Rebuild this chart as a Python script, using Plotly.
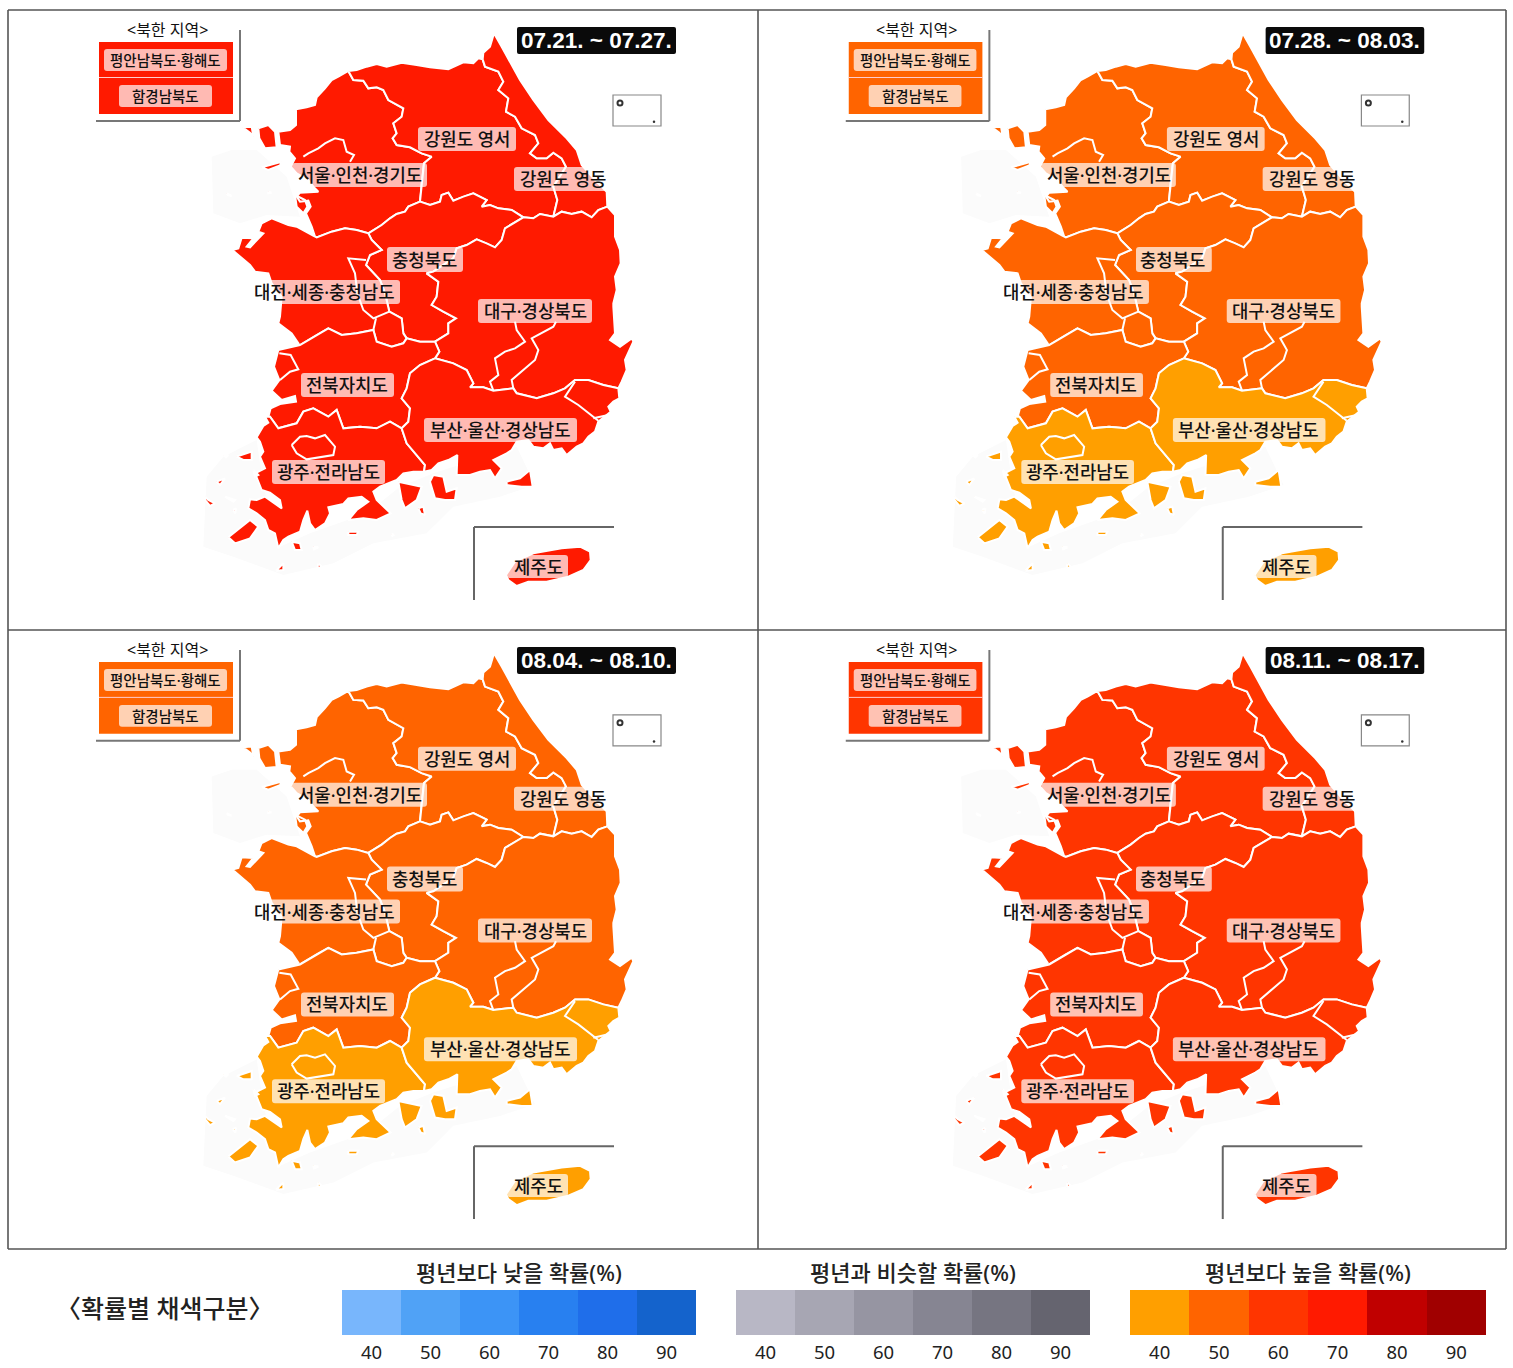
# === 1개월 전망 지도 4주 + 확률 범례 ===
import plotly.graph_objects as go

W, H = 1513, 1368

# === DATA ===
WEEKS = ["07.21. ~ 07.27.", "07.28. ~ 08.03.", "08.04. ~ 08.10.", "08.11. ~ 08.17."]

REGIONS = ["gyeonggi", "gangwon_w", "gangwon_e", "chungbuk", "chungnam", "gyeongbuk",
           "jeonbuk", "jeonnam", "gyeongnam", "jeju"]

# 평년보다 높을 확률(%) 권역별, REGIONS 순서
WEEK1_PROB = [70, 70, 70, 70, 70, 70, 70, 70, 70, 70]
WEEK2_PROB = [50, 50, 50, 50, 50, 50, 50, 40, 40, 40]
WEEK3_PROB = [50, 50, 50, 50, 50, 50, 50, 40, 40, 40]
WEEK4_PROB = [60, 60, 60, 60, 60, 60, 60, 60, 60, 60]
NORTH_PROB = [70, 50, 50, 60]  # 북한 지역, 주차별

PROB_TICKS = [40, 50, 60, 70, 80, 90]
LOW_COLORS = ["#78b6fc", "#50a2f6", "#3c94f6", "#2880f0", "#1f6eea", "#1463cc"]
SIM_COLORS = ["#b8b7c5", "#a7a6b3", "#9695a2", "#868592", "#767581", "#65646f"]
HIGH_COLORS = ["#ff9f00", "#ff6400", "#ff3500", "#ff1a00", "#c00000", "#a00000"]

REGION_LABELS = ["강원도 영서", "서울·인천·경기도", "강원도 영동", "충청북도", "대전·세종·충청남도",
                 "대구·경상북도", "전북자치도", "부산·울산·경상남도", "광주·전라남도", "제주도"]
NORTH_LABELS = ["평안남북도·황해도", "함경남북도"]

# 경계선 (지도 좌표)
def z2(pts):
    return [(x, y + 870) for x, y in pts]

GG_NORTH = [(288, 298), (320, 292), (345, 285), (350, 262), (375, 235), (395, 210), (415, 200), (445, 183)]
GG_GW = [(445, 183), (460, 210), (490, 212), (505, 235), (530, 232), (550, 240), (565, 270), (610, 295), (605, 320),
         (580, 340), (590, 370), (578, 385), (590, 405), (630, 412), (665, 430), (695, 440), (672, 460),
         (665, 520), (660, 575)]
GG_CB = [(660, 575), (625, 590), (615, 605), (590, 612), (570, 625), (545, 645), (505, 670)]
GG_CN = [(505, 670), (470, 660), (435, 655), (395, 665), (350, 682), (345, 680)]
GG_COAST = [(345, 680), (335, 650), (318, 610), (332, 590), (325, 572), (300, 575), (290, 560), (300, 548),
            (355, 545), (340, 530), (325, 510), (290, 490), (272, 470), (285, 445), (268, 425), (270, 410),
            (240, 405), (235, 365), (270, 360), (288, 345), (288, 298)]
GW_NORTH = [(445, 183), (470, 180), (500, 170), (530, 162), (560, 170), (605, 158), (650, 165), (690, 172), (745, 178),
            (790, 157), (820, 160), (835, 145), (848, 148)]
GW_DIV = [(848, 148), (855, 170), (895, 185), (910, 215), (895, 240), (925, 265), (918, 305), (945, 320),
          (965, 355), (1005, 375), (1015, 400), (990, 430), (1010, 445), (1040, 445), (1060, 428), (1085, 445),
          (1098, 470), (1060, 530), (1072, 570), (1060, 620)]
GE_COAST = [(848, 148), (850, 128), (870, 110), (882, 70), (905, 110), (935, 165), (960, 210), (1000, 270),
            (1045, 330), (1100, 385), (1130, 420), (1145, 465), (1185, 510), (1220, 545), (1222, 590)]
GE_GB = [(1222, 590), (1195, 600), (1175, 622), (1145, 605), (1115, 612), (1085, 605), (1060, 620)]
GW_GB = [(1060, 620), (1020, 612), (1000, 625), (970, 622)]
GW_CB = [(970, 622), (935, 600), (895, 595), (870, 585), (845, 590), (860, 570), (820, 550), (790, 560),
         (760, 572), (745, 548), (725, 555), (720, 575), (690, 585), (660, 575)]
CB_GB = [(970, 622), (915, 655), (905, 690), (885, 712), (860, 700), (830, 688), (800, 705), (770, 715),
         (760, 745), (700, 785), (680, 790), (715, 815), (710, 860), (695, 885), (730, 905), (768, 925),
         (745, 940), (745, 970), (705, 995)]
CB_JB = [(620, 985), (660, 995), (705, 995)]
JB_GB = [(705, 995), (718, 1025), (705, 1045)]
CN_CB = [(505, 670), (515, 690), (545, 720), (510, 735), (498, 765), (540, 810), (555, 850), (568, 905),
         (605, 925), (610, 970), (620, 985)]
CN_COAST = [(345, 680), (310, 660), (290, 650), (265, 645), (230, 630), (215, 625), (185, 640), (175, 665), (190, 670),
            (150, 712), (140, 710), (160, 685), (125, 683), (115, 715), (97, 720), (125, 745), (150, 765), (165, 785),
            (205, 790), (215, 820), (245, 860), (240, 920), (235, 940), (275, 970), (295, 1000), (235, 1020)]
CN_JB = z2([(235, 150), (300, 135), (350, 105), (385, 85), (425, 105), (470, 100), (520, 90), (530, 125),
            (575, 140), (610, 130), (620, 115)])
JB_COAST = z2([(235, 150), (222, 200), (238, 240), (215, 272), (245, 300), (285, 288), (288, 305), (240, 312),
               (212, 325), (205, 350), (195, 350)])
JB_JN = z2([(605, 385), (570, 365), (530, 385), (480, 380), (430, 385), (410, 330), (385, 350), (340, 325),
            (310, 335), (290, 370), (235, 385), (210, 350), (195, 350)])
JB_GN = z2([(705, 175), (660, 195), (630, 220), (620, 265), (605, 295), (630, 325), (625, 365), (605, 385)])
JN_GN = z2([(605, 385), (620, 430), (650, 465), (675, 495), (672, 515)])
JN_COAST = z2([(195, 350), (205, 368), (190, 378), (170, 412), (180, 425), (190, 455), (180, 470), (195, 505), (165, 520),
               (175, 545), (185, 570), (210, 578), (240, 600), (245, 625), (215, 605), (195, 590), (170, 600), (150, 598),
               (145, 625), (170, 640), (195, 660), (205, 690), (225, 700), (235, 745), (250, 720), (265, 710), (300, 695),
               (310, 660), (322, 632), (330, 670), (345, 690), (375, 670), (390, 640), (385, 622), (430, 612), (445, 595),
               (485, 590), (505, 605), (470, 630), (445, 660), (490, 655), (530, 660), (572, 640), (550, 620), (530, 600),
               (520, 575), (540, 560), (590, 540), (610, 520), (640, 515), (672, 515)])
GB_GN = z2([(705, 175), (760, 190), (800, 210), (820, 250), (810, 262), (850, 262), (880, 272), (940, 265),
            (950, 280), (1010, 295), (1060, 280), (1095, 265), (1125, 240), (1165, 240), (1210, 255), (1255, 265)])
GB_COAST = [(1222, 590), (1245, 615), (1245, 680), (1260, 720), (1262, 760), (1245, 800), (1250, 840), (1240, 880),
            (1240, 890)] + z2([(1245, 100), (1230, 120), (1260, 140), (1295, 115), (1300, 125), (1275, 180),
                               (1280, 210), (1265, 245), (1255, 265)])
GN_COAST = z2([(1255, 265), (1258, 295), (1240, 305), (1225, 320), (1232, 335), (1220, 345), (1195, 365), (1185, 395),
               (1165, 410), (1150, 430), (1130, 440), (1100, 465), (1085, 445), (1060, 450), (1050, 430), (1030, 445),
               (1000, 440), (985, 420), (950, 425), (935, 450), (920, 460), (880, 480), (905, 505), (885, 535), (870, 510),
               (840, 515), (810, 525), (770, 525), (772, 465), (745, 480), (715, 490), (695, 510), (672, 515)])
JEJU = z2([(918, 825), (945, 785), (1000, 760), (1085, 745), (1140, 740), (1170, 755), (1172, 780), (1150, 810),
           (1105, 830), (1040, 845), (985, 845), (950, 858), (925, 840)])

# 섬
GG_ISLANDS = [[(128, 352), (155, 350), (160, 380), (150, 368)],
              [(175, 355), (205, 345), (225, 365), (230, 412), (195, 415), (178, 385)],
              [(185, 472), (245, 455), (240, 466), (205, 480)],
              [(285, 555), (315, 570), (322, 590), (310, 610), (290, 590)],
              [(80, 550), (95, 558), (85, 556)],
              [(205, 545), (215, 548), (205, 550)]]
JN_ISLANDS = [z2(p) for p in [
    [(85, 712), (150, 660), (175, 680), (150, 715), (105, 730)],
    [(275, 725), (300, 730), (305, 750), (285, 750)],
    [(445, 695), (475, 695), (470, 705), (445, 705)],
    [(228, 812), (250, 790), (250, 810)],
    [(355, 790), (365, 800), (352, 805)],
    [(110, 470), (155, 455), (155, 480), (130, 480)],
    [(50, 545), (75, 535), (60, 555)],
    [(15, 590), (25, 600), (45, 610), (30, 618), (15, 600)],
    [(75, 590), (105, 600), (100, 605)],
    [(70, 465), (85, 465), (78, 472)],
    [(98, 630), (108, 625), (106, 640)],
    [(160, 510), (175, 525), (165, 530)],
    [(595, 545), (640, 555), (665, 560), (650, 600), (615, 625), (605, 600)],
    [(655, 625), (670, 620), (675, 645), (662, 640)],
    [(340, 740), (355, 742), (342, 748)],
    [(575, 702), (583, 704), (577, 708)]]]
GN_ISLANDS = [z2(p) for p in [
    [(690, 545), (700, 525), (730, 530), (740, 575), (770, 565), (765, 600), (735, 600), (705, 595)],
    [(920, 545), (960, 535), (990, 510), (998, 560), (965, 560), (920, 555)]]]

# 내부 경계선
INNER_LINES = [
    [(310, 440), (325, 430), (355, 415), (375, 400), (405, 385), (430, 390), (440, 425), (462, 435), (450, 455)],
    [(498, 750), (445, 745), (465, 790), (472, 850), (490, 900), (520, 925), (568, 905)],
    [(528, 925), (520, 960)],
    z2([(238, 160), (272, 165), (280, 180), (295, 208), (270, 215), (240, 240)]),
    z2([(275, 435), (300, 410), (320, 408), (345, 415), (375, 405), (395, 430), (405, 440), (400, 465), (365, 470),
        (320, 478), (290, 460), (275, 435)]),
    z2([(880, 272), (870, 245), (895, 225), (885, 175), (915, 155), (945, 145), (975, 125), (950, 90), (945, 65)]),
    z2([(940, 265), (935, 240), (1005, 180), (1015, 150), (995, 115), (1060, 80), (1068, 65)]),
    z2([(1125, 245), (1095, 290), (1135, 315), (1175, 345), (1195, 362)]),
    z2([(1180, 355), (1225, 345)]),
]

# 연한 도서 지역 배경
HAZE = [
    [(95, 420), (170, 420), (260, 500), (300, 620), (200, 615), (120, 640), (40, 610), (35, 440)],
    z2([(20, 530), (70, 470), (170, 420), (190, 560), (240, 740), (330, 700), (500, 640), (600, 560), (700, 520), (950, 440),
        (1005, 555), (900, 590), (760, 620), (680, 700), (520, 730), (400, 790), (250, 825), (100, 770), (10, 740)]),
]

ULLEUNG = [(1260, 279)]
DOKDO = [(1362, 335)]

# === 폴리곤 조합 ===
def rev(seg):
    return seg[::-1]

REGION_PARTS = {
    "gyeonggi": [GG_NORTH + GG_GW + GG_CB + GG_CN + GG_COAST] + GG_ISLANDS,
    "gangwon_w": [GW_NORTH + GW_DIV + GW_GB + GW_CB + rev(GG_GW)],
    "gangwon_e": [GE_COAST + GE_GB + rev(GW_DIV)],
    "chungbuk": [rev(GW_CB) + CB_GB + rev(CB_JB) + rev(CN_CB) + rev(GG_CB)],
    "chungnam": [CN_COAST + CN_JB + rev(CN_CB) + GG_CN],
    "gyeongbuk": [GB_COAST + rev(GB_GN) + rev(JB_GB) + rev(CB_GB) + rev(GW_GB) + rev(GE_GB)],
    "jeonbuk": [JB_COAST + rev(JB_JN) + rev(JB_GN) + rev(JB_GB) + rev(CB_JB) + rev(CN_JB)],
    "jeonnam": [JN_COAST + rev(JN_GN) + JB_JN] + JN_ISLANDS,
    "gyeongnam": [GB_GN + GN_COAST + rev(JN_GN) + rev(JB_GN)] + GN_ISLANDS,
    "jeju": [JEJU],
}

def flatten(parts):
    xs, ys = [], []
    for part in parts:
        xs += [p[0] for p in part] + [part[0][0], None]
        ys += [p[1] for p in part] + [part[0][1], None]
    return xs, ys

def prob_color(p):
    return HIGH_COLORS[PROB_TICKS.index(p)]

# 화면 픽셀 -> 지도 좌표 (1번 패널 기준)
def mx(px):
    return (px - 200) * 3

def my(py):
    return (py - 10) * 3

PANEL_X = [(8, 758), (758, 1506), (8, 758), (758, 1506)]
PANEL_Y = [(10, 630), (10, 630), (630, 1249), (630, 1249)]

FONT = "Noto Sans, Noto Sans CJK KR"

fig = go.Figure()
shapes = []
annotations = []
layout_axes = {}

def rounded(xref, yref, x0, y0, x1, y1, r, fill):
    path = (f"M {x0+r} {y0} L {x1-r} {y0} Q {x1} {y0} {x1} {y0+r} L {x1} {y1-r} Q {x1} {y1} {x1-r} {y1} "
            f"L {x0+r} {y1} Q {x0} {y1} {x0} {y1-r} L {x0} {y0+r} Q {x0} {y0} {x0+r} {y0} Z")
    shapes.append(dict(type="path", path=path, xref=xref, yref=yref, fillcolor=fill, line_width=0, layer="above"))

# (x0, y0, x1, y1, 글자 중심 x) 1번 패널 픽셀 기준
LABEL_BOXES = [(418, 127, 516, 151, 467), (292, 163, 427, 187, 360), (514, 167, 607, 191, 563),
               (387, 247, 463, 272, 424), (250, 280, 400, 304, 324), (478, 299, 592, 323, 535),
               (301, 373, 394, 397, 347), (424, 418, 577, 442, 500), (272, 460, 385, 484, 328),
               (507, 555, 568, 578, 538)]

WEEK_PROBS = [WEEK1_PROB, WEEK2_PROB, WEEK3_PROB, WEEK4_PROB]

for i in range(4):
    n = i + 1
    xa, ya = f"x{n}", f"y{n}"
    layout_axes[f"xaxis{n}"] = dict(domain=[PANEL_X[i][0] / W, PANEL_X[i][1] / W], range=[mx(8), mx(758)],
                                    anchor=ya, showgrid=False, zeroline=False, showticklabels=False, ticks="")
    layout_axes[f"yaxis{n}"] = dict(domain=[1 - PANEL_Y[i][1] / H, 1 - PANEL_Y[i][0] / H], range=[my(630), my(10)],
                                    anchor=xa, showgrid=False, zeroline=False, showticklabels=False, ticks="")

    hx, hy = flatten(HAZE)
    fig.add_trace(go.Scatter(x=hx, y=hy, xaxis=xa, yaxis=ya, mode="lines", fill="toself", fillcolor="#fbfbfb",
                             line=dict(width=0, color="#fbfbfb"), hoverinfo="skip", showlegend=False))

    for name, prob in zip(REGIONS, WEEK_PROBS[i]):
        rx, ry = flatten(REGION_PARTS[name])
        fig.add_trace(go.Scatter(x=rx, y=ry, xaxis=xa, yaxis=ya, mode="lines", fill="toself",
                                 fillcolor=prob_color(prob), line=dict(color="#ffffff", width=2),
                                 name=name, hoverinfo="name", showlegend=False))

    for seg in INNER_LINES:
        fig.add_trace(go.Scatter(x=[p[0] for p in seg], y=[p[1] for p in seg], xaxis=xa, yaxis=ya, mode="lines",
                                 line=dict(color="#ffffff", width=2), hoverinfo="skip", showlegend=False))

    fig.add_trace(go.Scatter(x=[p[0] for p in ULLEUNG], y=[p[1] for p in ULLEUNG], xaxis=xa, yaxis=ya, mode="markers",
                             marker=dict(symbol="circle-open", size=5, color="#333333", line=dict(width=2)),
                             hoverinfo="skip", showlegend=False))
    fig.add_trace(go.Scatter(x=[p[0] for p in DOKDO], y=[p[1] for p in DOKDO], xaxis=xa, yaxis=ya, mode="markers",
                             marker=dict(size=2.5, color="#333333"), hoverinfo="skip", showlegend=False))

    # 지역 라벨
    for text, (x0, y0, x1, y1, cx) in zip(REGION_LABELS, LABEL_BOXES):
        rounded(xa, ya, mx(x0), my(y0), mx(x1), my(y1), 9, "rgba(255,255,255,0.70)")
        annotations.append(dict(x=mx(cx), y=my((y0 + y1) / 2), xref=xa, yref=ya, text=text, showarrow=False,
                                xanchor="center", yanchor="middle",
                                font=dict(family=FONT, size=17.8, color="#111111", weight=500)))

    # 날짜
    rounded(xa, ya, mx(517), my(27), mx(676), my(54), 6, "#0a0a0a")
    annotations.append(dict(x=mx(596.5), y=my(41), xref=xa, yref=ya, text=WEEKS[i], showarrow=False,
                            xanchor="center", yanchor="middle",
                            font=dict(family="Liberation Sans", size=22.5, color="#ffffff", weight="bold")))

    # 북한 지역 박스
    nc = prob_color(NORTH_PROB[i])
    shapes.append(dict(type="rect", xref=xa, yref=ya, x0=mx(99), y0=my(42), x1=mx(233), y1=my(114), fillcolor=nc,
                       line_width=0))
    for sx0, sy0, sx1, sy1, col, lw in [(99, 77.5, 233, 77.5, "#ffcccc", 1), (240, 30, 240, 121, "#777777", 2),
                                        (96, 121, 240, 121, "#777777", 2), (474, 527, 474, 600, "#666666", 2),
                                        (474, 527, 614, 527, "#666666", 2)]:
        shapes.append(dict(type="line", xref=xa, yref=ya, x0=mx(sx0), y0=my(sy0), x1=mx(sx1), y1=my(sy1),
                           line=dict(color=col, width=lw)))
    shapes.append(dict(type="rect", xref=xa, yref=ya, x0=mx(613), y0=my(95), x1=mx(661), y1=my(126),
                       line=dict(color="#888888", width=1.2)))
    annotations.append(dict(x=mx(167), y=my(30.5), xref=xa, yref=ya, text="&lt;북한 지역&gt;", showarrow=False,
                            xanchor="center", yanchor="middle",
                            font=dict(family=FONT, size=16, color="#111111")))
    for text, (x0, y0, x1, y1) in zip(NORTH_LABELS, [(104, 49, 227, 71), (119, 85, 212, 107)]):
        rounded(xa, ya, mx(x0), my(y0), mx(x1), my(y1), 9, "rgba(255,255,255,0.70)")
        annotations.append(dict(x=mx((x0 + x1) / 2), y=my((y0 + y1) / 2), xref=xa, yref=ya, text=text, showarrow=False,
                                xanchor="center", yanchor="middle",
                                font=dict(family=FONT, size=14.5, color="#111111", weight=500)))

# 패널 테두리
for px in [8, 758, 1506]:
    shapes.append(dict(type="line", xref="paper", yref="paper", x0=px / W, x1=px / W, y0=1 - 1249 / H, y1=1 - 10 / H,
                       line=dict(color="#555555", width=1.6)))
for py in [10, 630, 1249]:
    shapes.append(dict(type="line", xref="paper", yref="paper", x0=8 / W, x1=1506 / W, y0=1 - py / H, y1=1 - py / H,
                       line=dict(color="#555555", width=1.6)))

# === 범례 ===
LEGEND_TITLES = ["평년보다 낮을 확률(%)", "평년과 비슷할 확률(%)", "평년보다 높을 확률(%)"]
LEGEND_COLORS = [LOW_COLORS, SIM_COLORS, HIGH_COLORS]
LEGEND_X = [(342, 696), (736, 1090), (1130, 1486)]

for j in range(3):
    n = j + 5
    xa, ya = f"x{n}", f"y{n}"
    fig.add_trace(go.Bar(x=[str(t) for t in PROB_TICKS], y=[1] * 6, xaxis=xa, yaxis=ya, width=1,
                         marker=dict(color=LEGEND_COLORS[j], line_width=0), hoverinfo="x", showlegend=False))
    layout_axes[f"xaxis{n}"] = dict(domain=[LEGEND_X[j][0] / W, LEGEND_X[j][1] / W], anchor=ya, type="category",
                                    showgrid=False, zeroline=False, showline=False, ticks="outside", ticklen=1,
                                    tickcolor="rgba(0,0,0,0)",
                                    tickfont=dict(family=FONT, size=18.5, color="#222222"))
    layout_axes[f"yaxis{n}"] = dict(domain=[1 - 1335 / H, 1 - 1290 / H], range=[0, 1], anchor=xa, showgrid=False,
                                    zeroline=False, showticklabels=False, ticks="")
    annotations.append(dict(x=(LEGEND_X[j][0] + LEGEND_X[j][1]) / 2 / W, y=1 - 1272 / H, xref="paper", yref="paper",
                            text=LEGEND_TITLES[j], showarrow=False, xanchor="center", yanchor="middle",
                            font=dict(family=FONT, size=22, color="#222222", weight=500)))

annotations.append(dict(x=165 / W, y=1 - 1308 / H, xref="paper", yref="paper", text="〈확률별 채색구분〉", showarrow=False,
                        xanchor="center", yanchor="middle", font=dict(family=FONT, size=25, color="#222222", weight=500)))

fig.update_layout(width=W, height=H, margin=dict(l=0, r=0, t=0, b=0), paper_bgcolor="#ffffff", plot_bgcolor="#ffffff",
                  showlegend=False, bargap=0, shapes=shapes, annotations=annotations, **layout_axes)

fig.write_html("out.html", config={"displayModeBar": False}, post_script="document.body.style.margin='0';")
